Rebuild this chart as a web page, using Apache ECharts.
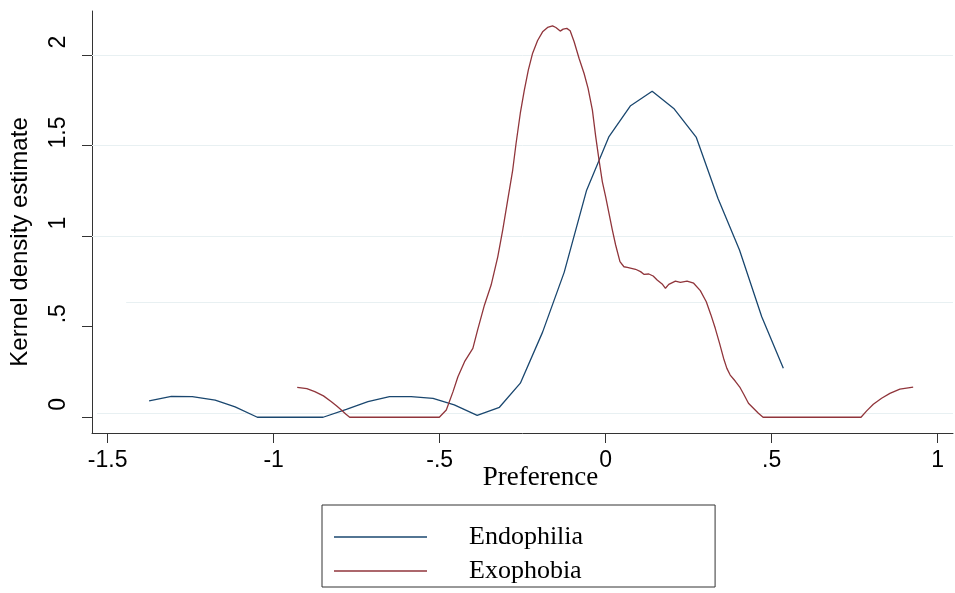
<!DOCTYPE html>
<html>
<head>
<meta charset="utf-8">
<script src="https://cdn.jsdelivr.net/npm/echarts@6/dist/echarts.min.js"></script>
<style>
  html, body { margin: 0; padding: 0; background: #fff; }
  #chart { width: 955px; height: 593px; }
</style>
</head>
<body>
<div id="chart"></div>
<script>
// ---- data ----
const seriesNames = ['Endophilia', 'Exophobia'];

const endophilia = [
  [-1.375, 0.090], [-1.308, 0.115], [-1.245, 0.114], [-1.176, 0.095], [-1.116, 0.057],
  [-1.049, 0.000], [-0.983, 0.000], [-0.917, 0.000], [-0.851, 0.000], [-0.781, 0.044],
  [-0.716, 0.086], [-0.651, 0.114], [-0.586, 0.114], [-0.520, 0.104], [-0.456, 0.068],
  [-0.387, 0.010], [-0.320, 0.055], [-0.257, 0.188], [-0.190, 0.470], [-0.125, 0.800],
  [-0.058, 1.250], [0.010, 1.550], [0.075, 1.720], [0.140, 1.800], [0.205, 1.705],
  [0.273, 1.545], [0.338, 1.209], [0.403, 0.923], [0.470, 0.555], [0.535, 0.270]
];

const exophobia = [
  [-0.929, 0.165], [-0.900, 0.158], [-0.876, 0.141], [-0.850, 0.118], [-0.826, 0.086],
  [-0.810, 0.062], [-0.796, 0.040], [-0.783, 0.018], [-0.771, 0.000], [-0.501, 0.000],
  [-0.480, 0.040], [-0.460, 0.140], [-0.445, 0.224], [-0.425, 0.307], [-0.400, 0.380],
  [-0.386, 0.480], [-0.365, 0.620], [-0.345, 0.730], [-0.325, 0.886], [-0.310, 1.034],
  [-0.295, 1.200], [-0.280, 1.365], [-0.270, 1.510], [-0.257, 1.680], [-0.245, 1.806],
  [-0.233, 1.917], [-0.220, 2.010], [-0.205, 2.080], [-0.190, 2.128], [-0.175, 2.152],
  [-0.160, 2.161], [-0.150, 2.152], [-0.137, 2.132], [-0.128, 2.143], [-0.117, 2.147],
  [-0.107, 2.134], [-0.095, 2.073], [-0.080, 1.981], [-0.065, 1.898], [-0.053, 1.816],
  [-0.040, 1.696], [-0.030, 1.549], [-0.020, 1.420], [-0.010, 1.300], [0.000, 1.217],
  [0.010, 1.126], [0.020, 1.034], [0.030, 0.951], [0.043, 0.859], [0.055, 0.831],
  [0.065, 0.828], [0.090, 0.817], [0.105, 0.804], [0.115, 0.789], [0.130, 0.791],
  [0.143, 0.780], [0.155, 0.758], [0.170, 0.736], [0.180, 0.712], [0.190, 0.734],
  [0.210, 0.752], [0.225, 0.745], [0.245, 0.752], [0.265, 0.740], [0.285, 0.699],
  [0.303, 0.638], [0.317, 0.565], [0.330, 0.491], [0.343, 0.408], [0.355, 0.326],
  [0.365, 0.270], [0.375, 0.233], [0.390, 0.200], [0.405, 0.163], [0.417, 0.123],
  [0.430, 0.077], [0.445, 0.050], [0.460, 0.022], [0.474, 0.000], [0.769, 0.000],
  [0.786, 0.035], [0.806, 0.072], [0.831, 0.105], [0.856, 0.132], [0.886, 0.155],
  [0.926, 0.166]
];

const xTicks = [-1.5, -1, -0.5, 0, 0.5, 1];
const yTicks = [0, 0.5, 1, 1.5, 2];
const xRange = [-1.547, 1.046];
const yRange = [-0.087, 2.243];
// faint horizontal reference lines as they appear in the picture: [y, xStart]
const gridLines = [[0.024, -1.532], [0.635, -1.444], [1, -1.547], [1.5, -1.547], [2, -1.547]];

// ---- styling ----
const fmt = v => (v === 0 ? '0' : String(v).replace('0.', '.'));
const tickFamily = "'Liberation Sans', Arial, sans-serif";
const tickSize = 23;

const chart = echarts.init(document.getElementById('chart'), null, { renderer: 'canvas' });

const axisColor = '#333';
const option = {
  animation: false,
  backgroundColor: '#fff',
  grid: { left: 91, right: 2, top: 11, bottom: 160, containLabel: false },
  legend: {
    data: seriesNames,
    orient: 'vertical',
    left: 322,
    top: 505,
    icon: 'rect',
    itemWidth: 93,
    itemHeight: 1.3,
    itemGap: 2,
    padding: [16, 132, 0, 12],
    borderColor: '#333',
    borderWidth: 1,
    borderRadius: 0,
    backgroundColor: '#fff',
    textStyle: {
      fontFamily: "'Liberation Serif', 'Times New Roman', serif",
      fontSize: 26,
      lineHeight: 24,
      color: '#000',
      padding: [8, 0, 0, 37]
    }
  },
  xAxis: {
    type: 'value',
    min: xRange[0],
    max: xRange[1],
    name: 'Preference',
    nameLocation: 'middle',
    nameGap: 31,
    nameMoveOverlap: false,
    nameTextStyle: {
      fontFamily: "'Liberation Serif', 'Times New Roman', serif",
      fontSize: 27,
      color: '#000',
      padding: [0, 0, 0, 36]
    },
    axisLine: { show: true, onZero: false, lineStyle: { color: axisColor, width: 1 } },
    axisTick: { show: true, length: 10, customValues: xTicks, lineStyle: { color: axisColor } },
    axisLabel: {
      customValues: xTicks,
      formatter: fmt,
      margin: 16,
      fontFamily: tickFamily,
      fontSize: tickSize,
      color: '#000'
    },
    splitLine: { show: false }
  },
  yAxis: {
    type: 'value',
    min: yRange[0],
    max: yRange[1],
    name: 'Kernel density estimate',
    nameLocation: 'middle',
    nameRotate: 90,
    nameGap: 60,
    nameMoveOverlap: false,
    nameTextStyle: {
      fontFamily: "'Liberation Sans', Arial, sans-serif",
      fontSize: 24,
      color: '#000',
      padding: [0, 40, 0, 0]
    },
    axisLine: { show: true, onZero: false, lineStyle: { color: axisColor, width: 1 } },
    axisTick: { show: true, length: 10, customValues: yTicks, lineStyle: { color: axisColor } },
    axisLabel: {
      customValues: yTicks,
      formatter: fmt,
      rotate: 90,
      margin: 22,
      fontFamily: tickFamily,
      fontSize: tickSize,
      color: '#000',
      padding: [0, 0, 0, 26]
    },
    splitLine: { show: false }
  },
  series: [
    {
      name: seriesNames[0],
      type: 'line',
      data: endophilia,
      symbol: 'none',
      showSymbol: false,
      lineStyle: { color: '#1a476f', width: 1.3 },
      itemStyle: { color: '#1a476f' },
      z: 3,
      markLine: {
        silent: true,
        symbol: ['none', 'none'],
        label: { show: false },
        lineStyle: { color: '#e8f0f2', width: 1, type: 'solid' },
        z: 1,
        data: gridLines.map(g => [{ coord: [g[1], g[0]] }, { coord: [xRange[1], g[0]] }])
      }
    },
    {
      name: seriesNames[1],
      type: 'line',
      data: exophobia,
      symbol: 'none',
      showSymbol: false,
      lineStyle: { color: '#90353b', width: 1.3 },
      itemStyle: { color: '#90353b' },
      z: 4
    }
  ]
};
chart.setOption(option);
</script>
</body>
</html>
